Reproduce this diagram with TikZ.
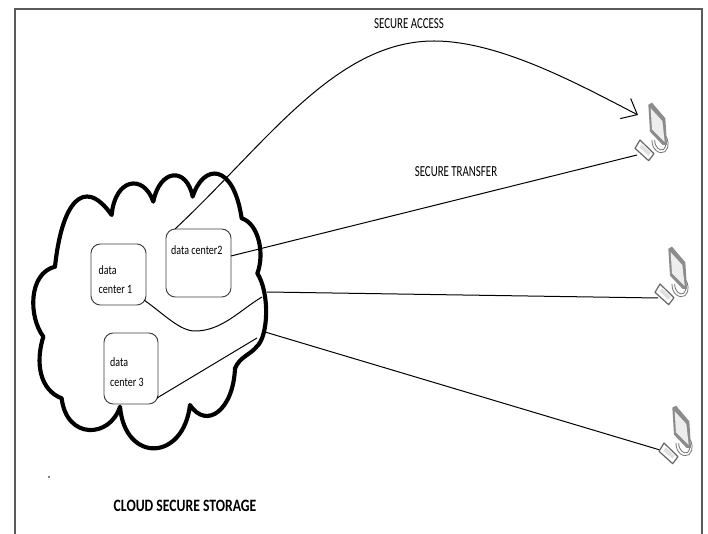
\documentclass[tikz,border=0pt]{standalone}
\usepackage{fontspec}
\setmainfont{Carlito}
\usetikzlibrary{arrows.meta}
\definecolor{framec}{RGB}{90,90,90}
\tikzset{
  x=0.75pt,y=-0.75pt,
  frameline/.style={draw=framec,line width=1.1pt},
  cloudline/.style={draw=black,line width=3.1pt,line join=round,line cap=round},
  center/.style={draw=black!75,line width=0.7pt,rounded corners=7pt,fill=white},
  wire/.style={draw=black,line width=0.75pt},
  boxlabel/.style={font=\fontsize{9.6pt}{12.6pt}\selectfont,align=left,anchor=west,inner sep=0pt,xscale=0.78,transform shape},
  titlelabel/.style={font=\fontsize{11.5pt}{12pt}\selectfont,inner sep=0pt,xscale=0.71,transform shape},
  boldlabel/.style={font=\bfseries\fontsize{13pt}{14pt}\selectfont,inner sep=0pt,xscale=0.79,transform shape},
  pics/computer/.style={code={
    \begin{scope}[x=0.25pt,y=-0.25pt]
      \draw[black!55,line width=0.6pt] (96,150) .. controls (95,180) and (120,195) .. (135,185) .. controls (150,172) and (145,145) .. (135,135);
      \draw[black!55,line width=0.6pt] (104,150) .. controls (104,172) and (120,185) .. (131,178) .. controls (140,168) and (140,150) .. (134,142);
      \fill[black!45] (85,44) -- (96,38) -- (136,85) -- (141,165) -- (128,165) -- (90,125) -- cycle;
      \fill[black!7] (92,55) -- (127,93) -- (134,156) -- (96,118) -- cycle;
      \draw[black!60,fill=white,line width=0.9pt,line join=round] (60,150) -- (102,191) -- (86,212) -- (45,175) -- cycle;
      \fill[black!12] (58,172) -- (66,163) -- (92,188) -- (85,197) -- cycle;
    \end{scope}
  }}
}
\begin{document}
\begin{tikzpicture}
\useasboundingbox (0,0) rectangle (708,534);
\fill[white] (0,0) rectangle (708,534);
\draw[frameline] (15,534) -- (15,9) -- (702,9) -- (702,534);

\node[center,minimum width=41.25pt,minimum height=45.75pt] (dc1) at (118.5,274.5) {};
\node[center,minimum width=48.75pt,minimum height=51pt] (dc2) at (198.5,263) {};
\node[center,minimum width=40.5pt,minimum height=53.25pt] (dc3) at (131,368.5) {};

\coordinate (dc2top) at (175,229);
\coordinate (dc2right) at (231,256);
\coordinate (dc1br) at (144,300);
\coordinate (dc3br) at (157,398);
\coordinate (cloudA) at (262,297);
\coordinate (cloudB) at (267,292);
\coordinate (cloudC) at (257,338);
\coordinate (cloudD) at (265,332);
\coordinate (tip) at (638,115);
\coordinate (pc1) at (637,155);
\coordinate (pc2) at (658,298);
\coordinate (pc3) at (660,450);

\begin{scope}[shift={(0,160)},x=0.25pt,y=-0.25pt]
\draw[cloudline]
  (165,320) .. controls (185,130) and (250,45) .. (335,165)
  .. controls (345,55) and (430,40) .. (460,125)
  .. controls (480,25) and (560,20) .. (578,110)
  .. controls (610,10) and (700,7) .. (725,175)
  .. controls (775,190) and (795,280) .. (772,340)
  .. controls (810,400) and (805,530) .. (770,560)
  .. controls (750,585) and (720,590) .. (705,625)
  .. controls (700,750) and (620,810) .. (570,735)
  .. controls (550,905) and (375,910) .. (360,740)
  .. controls (330,835) and (200,840) .. (185,715)
  .. controls (120,690) and (105,610) .. (130,530)
  .. controls (85,470) and (85,340) .. (165,320);
\end{scope}

\draw[wire,-{Straight Barb[length=10pt,width=17pt]}] (dc2top)
  .. controls (265,145) and (335,41) .. (434,41)
  .. controls (500,41) and (580,85) .. (tip);
\draw[wire] (dc2right) -- (pc1);
\draw[wire] (dc1br) .. controls (165,315) and (180,331) .. (195,331)
  .. controls (222,331) and (240,310) .. (cloudA);
\draw[wire] (cloudB) -- (pc2);
\draw[wire] (dc3br) -- (cloudC);
\draw[wire] (cloudD) -- (pc3);

\node[boxlabel] (t1) at (98.5,280) {data\\[1.5pt]center 1};
\node[boxlabel] (t2) at (171,250) {data center2};
\node[boxlabel] (t3) at (110,372) {data\\[2pt]center 3};
\node[titlelabel] (sa) at (409,24) {SECURE ACCESS};
\node[titlelabel] (st) at (456,172) {SECURE TRANSFER};
\node[boldlabel] (cs) at (185,506) {CLOUD SECURE STORAGE};
\fill[black] (49,477) circle (0.9);

\pic at (620,90) {computer};
\pic at (640,234) {computer};
\pic at (644,393) {computer};
\end{tikzpicture}
\end{document}
